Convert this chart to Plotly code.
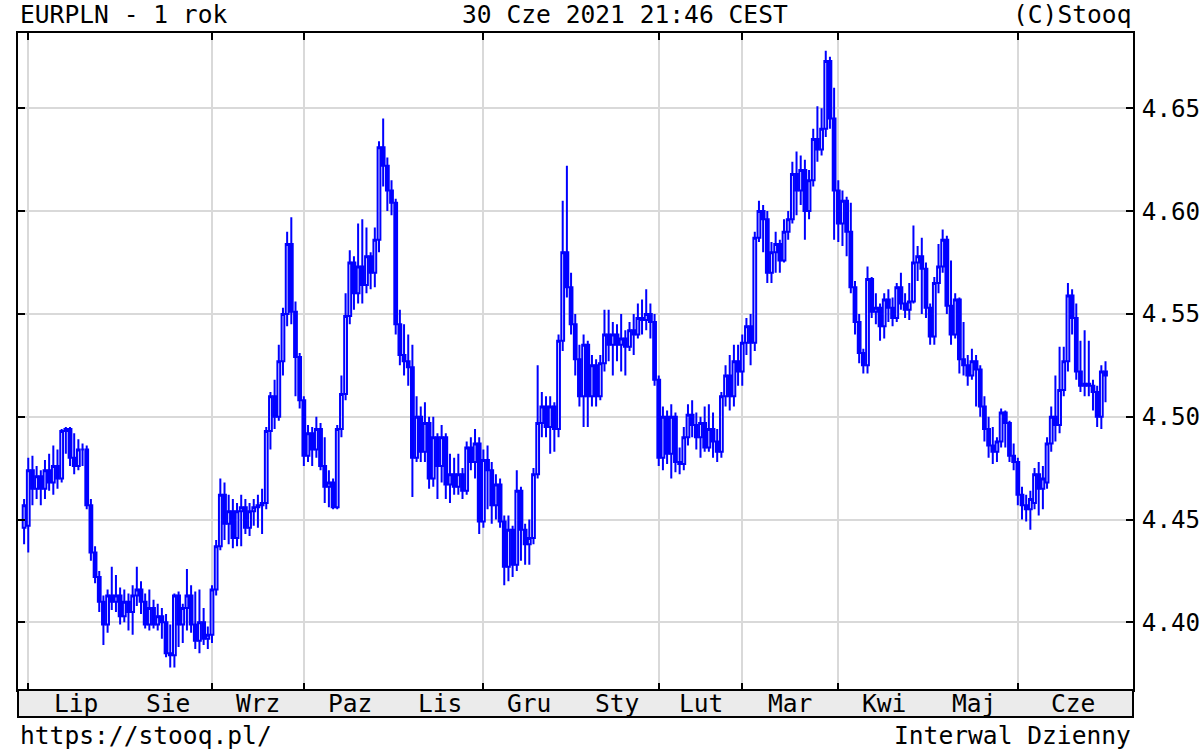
import numpy as np
import pandas as pd
import plotly.graph_objects as go

# EURPLN, daily candles, 1 year back from 30.06.2021
FIRST_DAY = "2020-06-30"
LAST_DAY = "2021-06-30"
HOLIDAYS = ["2020-12-25", "2021-01-01"]

MONTH_STARTS = ["2020-07-01", "2020-08-01", "2020-09-01", "2020-10-01", "2020-11-01", "2020-12-01",
                "2021-01-01", "2021-02-01", "2021-03-01", "2021-04-01", "2021-05-01", "2021-06-01"]
MONTH_LABELS = ["Lip", "Sie", "Wrz", "Paz", "Lis", "Gru", "Sty", "Lut", "Mar", "Kwi", "Maj", "Cze"]
Y_TICKS = [4.40, 4.45, 4.50, 4.55, 4.60, 4.65]

OPEN = [
    4.446,
    4.447, 4.474, 4.465, 4.471, 4.465, 4.474, 4.468, 4.476, 4.470, 4.493, 4.494, 4.480, 4.476, 4.484, 4.484, 4.457, 4.434, 4.422, 4.410, 4.399, 4.413, 4.410, 4.413,
    4.403, 4.410, 4.405, 4.413, 4.416, 4.410, 4.399, 4.407, 4.399, 4.403, 4.400, 4.385, 4.384, 4.413, 4.399, 4.407, 4.413, 4.399, 4.391, 4.400, 4.392,
    4.394, 4.416, 4.437, 4.462, 4.448, 4.454, 4.441, 4.454, 4.456, 4.446, 4.454, 4.456, 4.457, 4.458, 4.493, 4.510, 4.500, 4.527, 4.550, 4.584, 4.551, 4.529,
    4.508, 4.481, 4.492, 4.484, 4.494, 4.476, 4.466, 4.468, 4.456, 4.494, 4.511, 4.549, 4.575, 4.560, 4.573, 4.564, 4.578, 4.570, 4.586, 4.631, 4.622, 4.610,
    4.604, 4.545, 4.530, 4.527, 4.524, 4.480, 4.500, 4.483, 4.497, 4.470, 4.490, 4.476, 4.490, 4.467, 4.472, 4.466, 4.472, 4.464, 4.485, 4.478, 4.487,
    4.449, 4.479, 4.474, 4.457, 4.467, 4.449, 4.427, 4.445, 4.428, 4.464, 4.445, 4.438, 4.441, 4.472, 4.497, 4.505, 4.495, 4.505, 4.494, 4.537, 4.580, 4.563,
    4.545, 4.528, 4.510, 4.535, 4.510, 4.525, 4.510, 4.526, 4.540, 4.535, 4.540, 4.535, 4.538, 4.534, 4.542, 4.540, 4.548, 4.547, 4.550, 4.546,
    4.518, 4.480, 4.500, 4.482, 4.500, 4.478, 4.477, 4.490, 4.501, 4.496, 4.490, 4.497, 4.485, 4.494, 4.488, 4.483, 4.510, 4.520, 4.510, 4.527,
    4.522, 4.536, 4.544, 4.536, 4.587, 4.600, 4.596, 4.570, 4.580, 4.584, 4.576, 4.590, 4.596, 4.618, 4.610, 4.620, 4.600, 4.615, 4.635, 4.630, 4.640, 4.673, 4.645,
    4.610, 4.594, 4.605, 4.590, 4.563, 4.546, 4.531, 4.525, 4.567, 4.551, 4.553, 4.544, 4.557, 4.553, 4.548, 4.563, 4.555, 4.552, 4.556, 4.575, 4.578, 4.572,
    4.553, 4.539, 4.565, 4.573, 4.586, 4.554, 4.540, 4.557, 4.528, 4.525, 4.520, 4.527, 4.523, 4.505, 4.494, 4.486, 4.483, 4.488, 4.502, 4.497, 4.481,
    4.478, 4.462, 4.457, 4.455, 4.458, 4.472, 4.465, 4.468, 4.487, 4.500, 4.496, 4.513, 4.527, 4.559, 4.548, 4.522, 4.515, 4.516, 4.515, 4.512, 4.500, 4.522,
]
HIGH = [
    4.460,
    4.480, 4.481, 4.476, 4.474, 4.479, 4.482, 4.486, 4.484, 4.494, 4.495, 4.495, 4.492, 4.489, 4.487, 4.486, 4.460, 4.437, 4.425, 4.413, 4.416, 4.427, 4.423, 4.417,
    4.416, 4.414, 4.418, 4.427, 4.420, 4.414, 4.416, 4.411, 4.409, 4.407, 4.404, 4.399, 4.414, 4.415, 4.409, 4.426, 4.418, 4.415, 4.416, 4.407, 4.398,
    4.418, 4.440, 4.470, 4.468, 4.462, 4.460, 4.458, 4.462, 4.460, 4.458, 4.460, 4.462, 4.465, 4.495, 4.512, 4.518, 4.535, 4.553, 4.590, 4.597, 4.556, 4.531,
    4.510, 4.496, 4.495, 4.500, 4.497, 4.490, 4.474, 4.470, 4.496, 4.520, 4.560, 4.581, 4.578, 4.594, 4.596, 4.592, 4.580, 4.592, 4.634, 4.645, 4.626, 4.615,
    4.606, 4.552, 4.545, 4.540, 4.535, 4.510, 4.505, 4.507, 4.500, 4.500, 4.492, 4.496, 4.492, 4.482, 4.480, 4.482, 4.475, 4.488, 4.490, 4.494, 4.490,
    4.484, 4.486, 4.478, 4.472, 4.470, 4.452, 4.452, 4.447, 4.474, 4.466, 4.448, 4.450, 4.475, 4.525, 4.512, 4.510, 4.510, 4.507, 4.540, 4.605, 4.622, 4.570,
    4.550, 4.535, 4.540, 4.537, 4.530, 4.528, 4.530, 4.552, 4.552, 4.546, 4.545, 4.550, 4.542, 4.546, 4.550, 4.555, 4.557, 4.562, 4.555, 4.550,
    4.520, 4.505, 4.503, 4.506, 4.502, 4.485, 4.495, 4.506, 4.508, 4.502, 4.500, 4.505, 4.506, 4.502, 4.494, 4.512, 4.525, 4.530, 4.535, 4.535,
    4.540, 4.548, 4.550, 4.590, 4.605, 4.603, 4.600, 4.585, 4.590, 4.586, 4.596, 4.600, 4.624, 4.629, 4.627, 4.625, 4.620, 4.640, 4.651, 4.650, 4.678, 4.675, 4.660,
    4.615, 4.610, 4.607, 4.604, 4.566, 4.550, 4.533, 4.573, 4.568, 4.560, 4.555, 4.560, 4.562, 4.558, 4.565, 4.570, 4.560, 4.565, 4.593, 4.583, 4.587, 4.575,
    4.555, 4.568, 4.584, 4.591, 4.588, 4.576, 4.560, 4.558, 4.546, 4.530, 4.533, 4.530, 4.525, 4.510, 4.500, 4.495, 4.490, 4.504, 4.503, 4.498, 4.487,
    4.480, 4.466, 4.462, 4.464, 4.475, 4.478, 4.476, 4.490, 4.505, 4.520, 4.534, 4.534, 4.565, 4.562, 4.555, 4.537, 4.542, 4.537, 4.518, 4.515, 4.525, 4.527,
]
LOW = [
    4.438,
    4.434, 4.457, 4.460, 4.457, 4.460, 4.464, 4.462, 4.465, 4.468, 4.482, 4.476, 4.472, 4.474, 4.476, 4.455, 4.430, 4.419, 4.405, 4.389, 4.395, 4.406, 4.405, 4.399,
    4.400, 4.396, 4.394, 4.408, 4.404, 4.397, 4.396, 4.397, 4.396, 4.392, 4.383, 4.378, 4.378, 4.388, 4.390, 4.396, 4.395, 4.387, 4.385, 4.389, 4.387,
    4.390, 4.413, 4.435, 4.440, 4.438, 4.436, 4.437, 4.437, 4.443, 4.442, 4.447, 4.446, 4.443, 4.455, 4.484, 4.494, 4.498, 4.520, 4.544, 4.545, 4.510, 4.504,
    4.476, 4.478, 4.476, 4.480, 4.474, 4.458, 4.456, 4.455, 4.455, 4.490, 4.508, 4.545, 4.552, 4.555, 4.555, 4.560, 4.562, 4.563, 4.580, 4.612, 4.600, 4.598,
    4.540, 4.525, 4.520, 4.515, 4.461, 4.478, 4.478, 4.478, 4.465, 4.466, 4.460, 4.468, 4.460, 4.458, 4.462, 4.462, 4.460, 4.462, 4.474, 4.470, 4.443,
    4.446, 4.455, 4.448, 4.450, 4.446, 4.418, 4.420, 4.422, 4.425, 4.430, 4.428, 4.428, 4.438, 4.470, 4.490, 4.490, 4.482, 4.483, 4.490, 4.532, 4.558, 4.540,
    4.520, 4.505, 4.495, 4.495, 4.505, 4.505, 4.508, 4.522, 4.527, 4.520, 4.527, 4.522, 4.520, 4.532, 4.530, 4.538, 4.540, 4.542, 4.538, 4.515,
    4.476, 4.474, 4.477, 4.470, 4.473, 4.472, 4.474, 4.486, 4.490, 4.484, 4.480, 4.483, 4.483, 4.480, 4.478, 4.480, 4.505, 4.503, 4.505, 4.515,
    4.515, 4.530, 4.525, 4.532, 4.585, 4.580, 4.565, 4.565, 4.570, 4.570, 4.575, 4.586, 4.594, 4.598, 4.603, 4.586, 4.596, 4.612, 4.624, 4.627, 4.636, 4.640, 4.586,
    4.585, 4.583, 4.578, 4.560, 4.540, 4.526, 4.521, 4.521, 4.548, 4.545, 4.537, 4.538, 4.546, 4.544, 4.546, 4.552, 4.548, 4.547, 4.555, 4.566, 4.550, 4.548,
    4.535, 4.535, 4.560, 4.570, 4.550, 4.535, 4.538, 4.521, 4.520, 4.515, 4.518, 4.505, 4.500, 4.488, 4.480, 4.477, 4.478, 4.485, 4.485, 4.478, 4.474,
    4.457, 4.450, 4.449, 4.445, 4.455, 4.452, 4.455, 4.465, 4.483, 4.488, 4.492, 4.510, 4.522, 4.540, 4.518, 4.512, 4.510, 4.510, 4.503, 4.495, 4.494, 4.507,
]
CLOSE = [
    4.457,
    4.474, 4.465, 4.471, 4.465, 4.474, 4.468, 4.476, 4.470, 4.493, 4.494, 4.480, 4.476, 4.484, 4.484, 4.457, 4.434, 4.422, 4.410, 4.399, 4.413, 4.410, 4.413, 4.403,
    4.410, 4.405, 4.413, 4.416, 4.410, 4.399, 4.407, 4.399, 4.403, 4.400, 4.385, 4.384, 4.413, 4.399, 4.407, 4.413, 4.399, 4.391, 4.400, 4.392, 4.394,
    4.416, 4.437, 4.462, 4.448, 4.454, 4.441, 4.454, 4.456, 4.446, 4.454, 4.456, 4.457, 4.458, 4.493, 4.510, 4.500, 4.527, 4.550, 4.584, 4.551, 4.529, 4.508,
    4.481, 4.492, 4.484, 4.494, 4.476, 4.466, 4.468, 4.456, 4.494, 4.511, 4.549, 4.575, 4.560, 4.573, 4.564, 4.578, 4.570, 4.586, 4.631, 4.622, 4.610, 4.604,
    4.545, 4.530, 4.527, 4.524, 4.480, 4.500, 4.483, 4.497, 4.470, 4.490, 4.476, 4.490, 4.467, 4.472, 4.466, 4.472, 4.464, 4.485, 4.478, 4.487, 4.449,
    4.479, 4.474, 4.457, 4.467, 4.449, 4.427, 4.445, 4.428, 4.464, 4.445, 4.438, 4.441, 4.472, 4.497, 4.505, 4.495, 4.505, 4.494, 4.537, 4.580, 4.563, 4.545,
    4.528, 4.510, 4.535, 4.510, 4.525, 4.510, 4.526, 4.540, 4.535, 4.540, 4.535, 4.538, 4.534, 4.542, 4.540, 4.548, 4.547, 4.550, 4.546, 4.518,
    4.480, 4.500, 4.482, 4.500, 4.478, 4.477, 4.490, 4.501, 4.496, 4.490, 4.497, 4.485, 4.494, 4.488, 4.483, 4.510, 4.520, 4.510, 4.527, 4.522,
    4.536, 4.544, 4.536, 4.587, 4.600, 4.596, 4.570, 4.580, 4.584, 4.576, 4.590, 4.596, 4.618, 4.610, 4.620, 4.600, 4.615, 4.635, 4.630, 4.640, 4.673, 4.645, 4.610,
    4.594, 4.605, 4.590, 4.563, 4.546, 4.531, 4.525, 4.567, 4.551, 4.553, 4.544, 4.557, 4.553, 4.548, 4.563, 4.555, 4.552, 4.556, 4.575, 4.578, 4.572, 4.553,
    4.539, 4.565, 4.573, 4.586, 4.554, 4.540, 4.557, 4.528, 4.525, 4.520, 4.527, 4.523, 4.505, 4.494, 4.486, 4.483, 4.488, 4.502, 4.497, 4.481, 4.478,
    4.462, 4.457, 4.455, 4.460, 4.472, 4.465, 4.470, 4.487, 4.500, 4.496, 4.513, 4.527, 4.559, 4.548, 4.522, 4.515, 4.516, 4.515, 4.512, 4.500, 4.522, 4.520,
]

BLUE = "#0000ff"
GRID = "#d9d9d9"
FONT = "DejaVu Sans Mono"

# plot area in pixels: x 18..1133, y 33..690 ; label band 690..717
X_RANGE = ["2020-06-26 13:00", "2021-07-08 14:00"]
Y_RANGE = [4.3671, 4.6866]
PLOT_H = 657
END_PAD = 5.6  # trading days shown after the last candle


def py(pix):
    """pixel row -> paper y"""
    return (690 - pix) / PLOT_H


dates = pd.bdate_range(FIRST_DAY, LAST_DAY, freq="C", holidays=HOLIDAYS)
assert len(dates) == len(OPEN) == len(HIGH) == len(LOW) == len(CLOSE), (len(dates), len(OPEN), len(HIGH), len(LOW), len(CLOSE))

fig = go.Figure(go.Candlestick(
    x=dates, open=OPEN, high=HIGH, low=LOW, close=CLOSE,
    increasing=dict(line=dict(color=BLUE, width=2), fillcolor="white"),
    decreasing=dict(line=dict(color=BLUE, width=2), fillcolor=BLUE),
    whiskerwidth=0, showlegend=False,
))

# month labels centred between month gridlines (last one up to the right edge)
starts = [int(np.searchsorted(dates, pd.Timestamp(m))) for m in MONTH_STARTS]
end_idx = len(dates) - 1 + END_PAD
bounds = starts + [end_idx]


def idx_to_date(f):
    i = int(np.floor(f))
    return dates[i] + pd.Timedelta(days=f - i)


annotations = []
for k, lab in enumerate(MONTH_LABELS):
    mid = (bounds[k] + bounds[k + 1]) / 2
    annotations.append(dict(text=lab, x=str(idx_to_date(mid)), xref="x", y=py(704), yref="paper",
                            xanchor="center", yanchor="middle", showarrow=False))

txt = dict(xref="paper", yref="paper", showarrow=False, yanchor="middle")
annotations += [
    dict(text="EURPLN - 1 rok", x=0, y=py(15), xanchor="left", **txt),
    dict(text="30 Cze 2021 21:46 CEST", x=(625 - 18) / 1115, y=py(15), xanchor="center", **txt),
    dict(text="(C)Stooq", x=1, y=py(15), xanchor="right", **txt),
    dict(text="https://stooq.pl/", x=0, y=py(735), xanchor="left", **txt),
    dict(text="Interwal Dzienny", x=1, y=py(735), xanchor="right", **txt),
]

shapes = [dict(type="rect", xref="paper", yref="paper", x0=0, x1=1, y0=py(717), y1=0,
               fillcolor="#ebebeb", line=dict(color="black", width=2))]

fig.update_layout(
    width=1200, height=750,
    margin=dict(l=18, r=67, t=33, b=60, autoexpand=False),
    paper_bgcolor="white", plot_bgcolor="white",
    font=dict(family=FONT, size=24.6, color="black"),
    showlegend=False,
    boxgap=0.05,
    annotations=annotations,
    shapes=shapes,
    xaxis=dict(
        type="date", range=X_RANGE, automargin=False,
        rangebreaks=[dict(bounds=["sat", "mon"]), dict(values=HOLIDAYS)],
        rangeslider=dict(visible=False),
        tickmode="array", tickvals=MONTH_STARTS, showticklabels=False,
        ticks="inside", ticklen=7, tickwidth=2, tickcolor="black",
        showgrid=True, gridcolor=GRID, gridwidth=2,
        showline=True, linecolor="black", linewidth=2, mirror="ticks", zeroline=False,
    ),
    yaxis=dict(
        side="right", range=Y_RANGE, automargin=False,
        tickmode="array", tickvals=Y_TICKS, tickformat=".2f",
        tickfont=dict(size=24.2), ticklabelstandoff=2,
        ticks="inside", ticklen=7, tickwidth=2, tickcolor="black",
        showgrid=True, gridcolor=GRID, gridwidth=2,
        showline=True, linecolor="black", linewidth=2, mirror="ticks", zeroline=False,
    ),
)

# the page body has a default 8px margin; drop it so the 1200x750 figure fills the window
fig.write_html("out.html", config={"displayModeBar": False},
               post_script="document.body.style.margin='0';document.body.style.overflow='hidden';")
